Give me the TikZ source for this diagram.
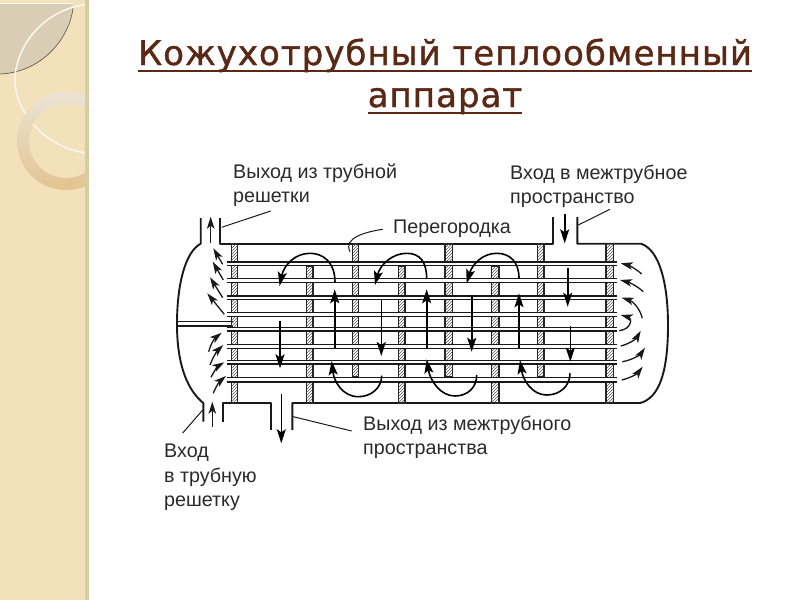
\documentclass[tikz,border=0pt]{standalone}
\usepackage{fontspec}
\setmainfont{Liberation Sans}
\newfontfamily\titlefont{DejaVu Sans}[LetterSpace=3,FakeBold=1.2]
\usetikzlibrary{arrows.meta,patterns}
\definecolor{sandbg}{HTML}{F3E1BC}
\definecolor{sandbar}{HTML}{D8CCA4}
\definecolor{leafc}{HTML}{DACDB6}
\definecolor{titlec}{HTML}{5A2814}
\definecolor{txtc}{HTML}{2A2A2A}
\tikzset{
  x=1pt,y=-1pt,
  wall/.style={line width=1.9pt,black!90},
  flow/.style={line width=1.6pt,black,-{Stealth[length=14pt,width=9pt,inset=3pt]}},
  thin flow/.style={line width=1.3pt,black!90,-{Stealth[length=12pt,width=7.5pt,inset=3pt]}},
  leader/.style={line width=1pt,black!90},
  plate/.style={draw=black!85,line width=1.1pt,pattern=north east lines,pattern color=black!65},
  lbl/.style={text=txtc,font=\fontsize{19.7}{24.3}\selectfont,align=left,anchor=north west,inner sep=0pt},
  ttl/.style={text=titlec,inner sep=0pt,anchor=base,font=\titlefont\fontsize{34}{40}\selectfont},
  ttlrule/.style={draw=titlec,line width=1.9pt}
}
\newcommand{\tuberow}[2]{%
  \fill[white] (226.7,#1) rectangle (617,#2);
  \draw[line width=1.4pt,black!90] (226.7,#1) -- (617,#1) (226.7,#2) -- (617,#2);}
\begin{document}
\begin{tikzpicture}
\useasboundingbox (0,0) rectangle (800,600);
\fill[white] (0,0) rectangle (800,600);
% decorated side panel
\fill[sandbg] (0,0) rectangle (85,600);
\fill[sandbar] (85,0) rectangle (89,600);
\begin{scope}
\clip (0,0) rectangle (85,600);
\fill[leafc] (0,3) -- (73,3) .. controls (70,35) and (45,72) .. (0,74) -- cycle;
\draw[black!55!sandbar,line width=0.7pt] (73,8) .. controls (70,35) and (45,72) .. (0,74);
\draw[white!85!sandbg,line width=1pt] (0,3) -- (73,3);
\draw[white!70!sandbg,line width=1.6pt] (88,4) .. controls (40,10) and (15,50) .. (15,80) .. controls (15,115) and (50,150) .. (88,153);
\shade[even odd rule,top color=leafc!55!white,bottom color=sandbar!80!orange!90!white]
  (66,141) circle[radius=49] (66,141) circle[radius=37];
\end{scope}
% title
\node[ttl] (title1) at (445,65) {Кожухотрубный теплообменный};
\node[ttl] (title2) at (445,107) {аппарат};
\draw[ttlrule] (title1.west |- 0,70.7) -- (title1.east |- 0,70.7);
\draw[ttlrule] (title2.west |- 0,113) -- (title2.east |- 0,113);
% shell
\draw[wall,line join=round]
  (200.7,218) -- (200.7,243.7)
  .. controls (185,252) and (177,285) .. (177,324)
  .. controls (177,360) and (185,388) .. (203.3,403) -- (203.3,421.7);
\draw[wall,line join=round]
  (220.3,218) -- (220.3,243.7) -- (553.3,243.7) -- (553.3,217);
\draw[wall,line join=round]
  (577.3,217) -- (577.3,243.7) -- (641,243.7)
  .. controls (660,250) and (668,285) .. (668,325)
  .. controls (668,370) and (660,398) .. (640,403) -- (292.3,403) -- (292.3,430);
\draw[wall,line join=round]
  (270.7,430) -- (270.7,403) -- (223,403) -- (223,421.7);
% partition
\fill[white] (177.5,321.7) rectangle (232,326);
\draw[line width=1.4pt,black!90] (177,321.7) -- (232.7,321.7) (177,326) -- (232.7,326) -- (232.7,330);
% plates
\draw[plate] (231.7,243.7) rectangle (237.7,403);
\draw[plate] (606,243.7) rectangle (613.3,403);
\draw[plate] (352.7,243.7) rectangle (358.5,376.7);
\draw[plate] (445,243.7) rectangle (452.6,376.7);
\draw[plate] (537.3,243.7) rectangle (544,376.7);
\draw[plate] (306.7,266) rectangle (313,403);
\draw[plate] (398.7,266) rectangle (405,403);
\draw[plate] (491.7,266) rectangle (499,403);
% tubes
\tuberow{262}{265.7}
\tuberow{278.7}{282.7}
\tuberow{296}{299.3}
\tuberow{312.3}{316.3}
\tuberow{327.7}{331}
\tuberow{344.7}{348.7}
\tuberow{360.7}{364}
\tuberow{377.7}{382}
% nozzle and head arrows
\draw[thin flow] (210.7,243.3) -- (210.7,216.7);
\draw[thin flow] (222.7,264.3) -- (213.3,248.3);
\draw[thin flow] (223.3,280) -- (212.7,261.7);
\draw[thin flow] (222.7,297.7) -- (210,277.3);
\draw[thin flow] (224.3,314.3) -- (207.3,293.3);
\draw[thin flow] (208.7,351.7) .. controls (211,343) and (215,338) .. (221.7,332.7);
\draw[thin flow] (210,365) .. controls (213,357) and (217,351) .. (223.3,345);
\draw[thin flow] (211,377.3) .. controls (214,371) and (218,366) .. (224.3,362.3);
\draw[thin flow] (213.3,393.3) .. controls (216,386) and (220,381) .. (226,376);
\draw[thin flow] (212.3,426.7) -- (212.3,401.7);
\draw[flow] (281.3,394) -- (281.3,443.3);
\draw[flow] (564.7,214) -- (564.7,243.3);
% shell-side flow
\draw[flow] (335,282.3) .. controls (335,262) and (323,253.3) .. (310,253.3) .. controls (295,253.3) and (284,265) .. (279.5,286);
\draw[flow] (280,320.7) -- (280,368.3);
\draw[flow] (334.7,348.3) -- (334.7,289.3);
\draw[flow] (381.7,375.7) .. controls (381.7,388) and (371,396.7) .. (358.3,396.7) .. controls (343,396.7) and (334,382) .. (331.7,361);
\draw[flow] (381.3,300) -- (381.3,356);
\draw[flow] (426.7,279) .. controls (426.7,262) and (420,253.3) .. (406.7,253.3) .. controls (392,253.3) and (380,265) .. (375,285);
\draw[flow] (426.7,348.3) -- (426.7,289.3);
\draw[flow] (471.7,295) -- (471.7,351.7);
\draw[flow] (476.7,375) .. controls (476.7,388) and (467,396) .. (455,396) .. controls (440,396) and (430,380) .. (426.7,359.3);
\draw[flow] (519,348.3) -- (519,293.3);
\draw[flow] (519,278.3) .. controls (519,262) and (510,253.3) .. (496.7,253.3) .. controls (482,253.3) and (472,265) .. (466.7,283.3);
\draw[flow] (570,373.3) .. controls (570,386) and (560,395) .. (546.7,395) .. controls (532,395) and (523,380) .. (520,360);
\draw[flow] (567.7,268.3) -- (567.7,306.7);
\draw[flow] (570.3,326) -- (570.3,361.7);
% right head arrows
\draw[thin flow] (641.7,274) .. controls (635,268) and (628,265) .. (620.7,263.3);
\draw[thin flow] (643.3,291.7) .. controls (636,285) and (628,282) .. (620,280);
\draw[thin flow] (642.3,318.3) .. controls (640,308) and (632,301) .. (621.7,297.7);
\draw[thin flow] (619.3,330.7) .. controls (632,329) and (632,318) .. (620.7,315);
\draw[thin flow] (620.7,346) .. controls (629,344) and (636,339) .. (640.7,330.7);
\draw[thin flow] (622.3,361.7) .. controls (632,360) and (640,355) .. (645,347.7);
\draw[thin flow] (621.7,380) .. controls (630,378) and (637,374) .. (642.7,366.7);
% labels
\node[lbl] (lbA) at (233,163.5) {Выход из трубной\\решетки};
\node[lbl] (lbB) at (393,220) {Перегородка};
\node[lbl] (lbC) at (510,165) {Вход в межтрубное\\пространство};
\node[lbl] (lbD) at (363,415.5) {Выход из межтрубного\\пространства};
\node[lbl] (lbE) at (164,444) {Вход\\в трубную\\решетку};
% leaders
\coordinate (a1) at (270.7,211); \coordinate (a2) at (221.7,227.3);
\coordinate (b1) at (382.7,229.3); \coordinate (b2) at (350,251.7);
\coordinate (c1) at (610,209.3); \coordinate (c2) at (578.3,225);
\coordinate (d1) at (351.7,431); \coordinate (d2) at (293.3,416.7);
\coordinate (e1) at (182.7,433); \coordinate (e2) at (202.7,410);
\draw[leader] (a1) -- (a2);
\draw[leader] (b1) .. controls (365,232) and (343,238) .. (b2);
\draw[leader] (c1) -- (c2);
\draw[leader] (d1) -- (d2);
\draw[leader] (e1) -- (e2);
\end{tikzpicture}
\end{document}
